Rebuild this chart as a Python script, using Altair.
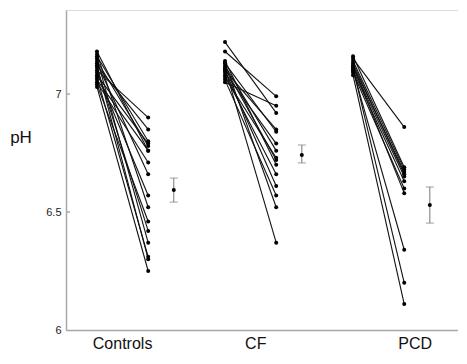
import altair as alt
import pandas as pd

groups = ["Controls", "CF", "PCD"]

controls_pre = [7.10, 7.12, 7.16, 7.08, 7.14, 7.06, 7.18, 7.05, 7.13, 7.09, 7.17, 7.04, 7.11, 7.15, 7.07, 7.12, 7.03]
controls_post = [6.90, 6.85, 6.80, 6.79, 6.78, 6.76, 6.76, 6.71, 6.66, 6.57, 6.52, 6.46, 6.42, 6.37, 6.31, 6.30, 6.25]

cf_pre = [7.18, 7.05, 7.22, 7.10, 7.13, 7.09, 7.12, 7.07, 7.11, 7.14, 7.08, 7.10, 7.06, 7.13, 7.11]
cf_post = [6.99, 6.95, 6.92, 6.85, 6.84, 6.79, 6.76, 6.73, 6.72, 6.70, 6.66, 6.61, 6.57, 6.52, 6.37]

pcd_pre = [7.15, 7.16, 7.14, 7.12, 7.13, 7.11, 7.10, 7.09, 7.12, 7.10, 7.11, 7.08]
pcd_post = [6.86, 6.69, 6.68, 6.67, 6.66, 6.65, 6.63, 6.60, 6.58, 6.34, 6.20, 6.11]

mean_ph = [6.593, 6.742, 6.530]
err_low = [6.542, 6.708, 6.453]
err_high = [6.644, 6.784, 6.606]

y_ticks = [6, 6.5, 7]
label_pos = [0.20, 1.24, 2.485]

rows = []
for gi, (pre, post) in enumerate([(controls_pre, controls_post), (cf_pre, cf_post), (pcd_pre, pcd_post)]):
    for si, (a, b) in enumerate(zip(pre, post)):
        sid = f"{groups[gi]}-{si}"
        rows.append({"subject": sid, "group": groups[gi], "pos": gi + 0.0, "pH": a})
        rows.append({"subject": sid, "group": groups[gi], "pos": gi + 0.4, "pH": b})
paired = pd.DataFrame(rows)

summary = pd.DataFrame({
    "group": groups,
    "pos": [i + 0.6 for i in range(len(groups))],
    "mean": mean_ph,
    "lo": err_low,
    "hi": err_high,
})

W, H = 392, 320
AXC = "#a8a8a8"
xscale = alt.Scale(domain=[-0.242, 2.82], nice=False, zero=False)
yscale = alt.Scale(domain=[6, 7.356], nice=False, zero=False)

x_axis = alt.Axis(orient="bottom", ticks=False, labels=False, title=None, grid=False,
                  domainColor=AXC, domainWidth=1.5)
y_axis = alt.Axis(values=y_ticks, ticks=False, tickSize=0, labelPadding=5, labelFontSize=11,
                  labelColor="#222", labelFont="Liberation Sans", format="~g", title=None,
                  grid=False, domainColor=AXC, domainWidth=1.5)

lines = alt.Chart(paired).mark_line(color="#111", strokeWidth=1.1).encode(
    x=alt.X("pos:Q", scale=xscale, axis=x_axis),
    y=alt.Y("pH:Q", scale=yscale, axis=y_axis),
    detail="subject:N",
)
points = alt.Chart(paired).mark_circle(color="#000", size=16, opacity=1).encode(
    x=alt.X("pos:Q", title=None),
    y=alt.Y("pH:Q", title=None),
)

err_rule = alt.Chart(summary).mark_rule(color="#777", strokeWidth=1).encode(
    x=alt.X("pos:Q", title=None),
    y=alt.Y("lo:Q", title=None),
    y2="hi:Q",
)
cap_lo = alt.Chart(summary).mark_tick(orient="horizontal", size=8, thickness=1, color="#777").encode(
    x=alt.X("pos:Q", title=None),
    y=alt.Y("lo:Q", title=None),
)
cap_hi = alt.Chart(summary).mark_tick(orient="horizontal", size=8, thickness=1, color="#777").encode(
    x=alt.X("pos:Q", title=None),
    y=alt.Y("hi:Q", title=None),
)
mean_pt = alt.Chart(summary).mark_circle(color="#000", size=16, opacity=1).encode(
    x=alt.X("pos:Q", title=None),
    y=alt.Y("mean:Q", title=None),
)

inner_ticks = alt.Chart(pd.DataFrame({"v": [6.5, 7]})).mark_rule(color=AXC, strokeWidth=1.5).encode(
    y=alt.Y("v:Q", title=None),
    x=alt.value(0),
    x2=alt.value(4),
)

group_labels = alt.Chart(pd.DataFrame({"group": groups, "lp": label_pos})).mark_text(
    fontSize=16, font="Liberation Sans", color="#111", baseline="bottom", align="center"
).encode(
    x=alt.X("lp:Q", title=None),
    y=alt.value(H + 22),
    text="group:N",
)

ph_label = alt.Chart(pd.DataFrame({"t": ["pH"]})).mark_text(
    fontSize=17, font="Liberation Sans", color="#111", baseline="middle", align="center"
).encode(
    x=alt.value(-45),
    y=alt.value(127.5),
    text="t:N",
)

chart = alt.layer(
    lines, points, err_rule, cap_lo, cap_hi, mean_pt, inner_ticks, group_labels, ph_label
).properties(
    width=W, height=H,
    autosize=alt.AutoSizeParams(type="none"),
    padding={"left": 58, "top": 2, "right": 0, "bottom": 22},
).configure_view(stroke=None).configure(background="white")

chart.save("out.html", embed_options={"renderer": "svg", "actions": False})
